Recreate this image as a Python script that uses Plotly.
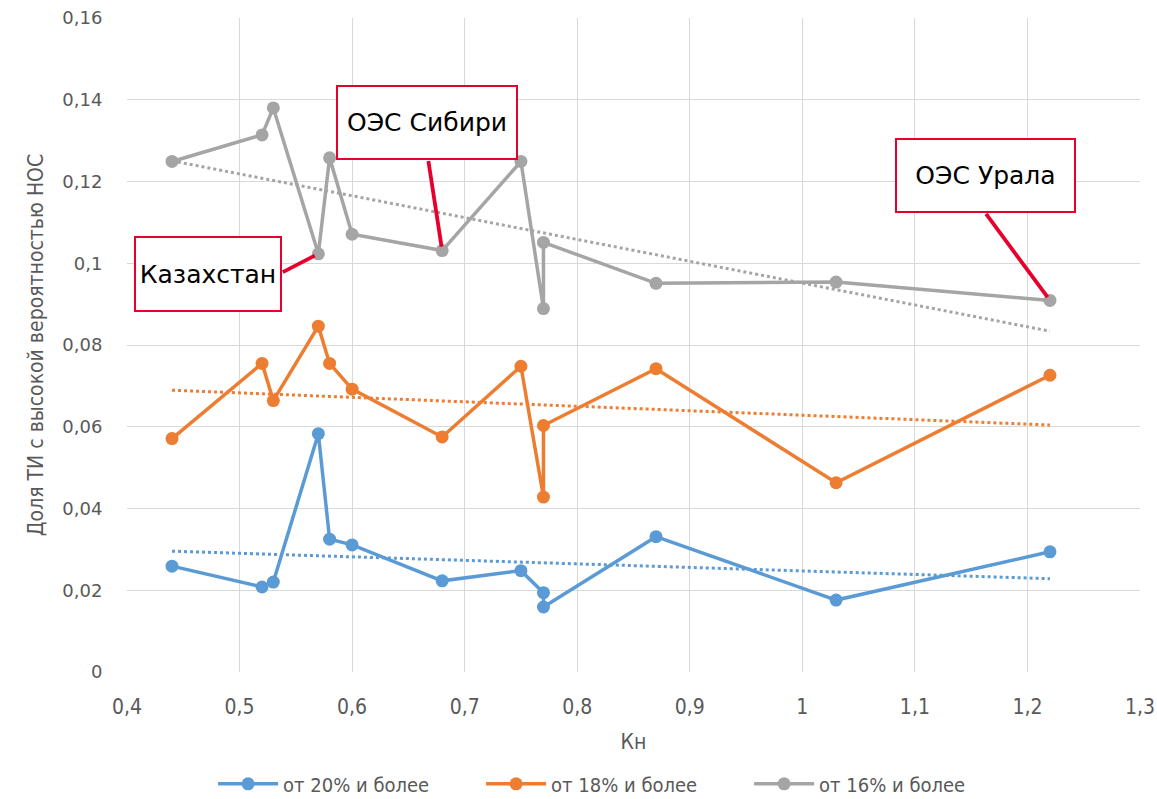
import numpy as np
import plotly.graph_objects as go

# ---- data ----
kn = [0.44, 0.52, 0.53, 0.57, 0.58, 0.60, 0.68, 0.75, 0.77, 0.77, 0.87, 1.03, 1.22]
s20 = [0.0259, 0.0208, 0.0220, 0.0583, 0.0325, 0.0311, 0.0223, 0.0248, 0.0194, 0.0159, 0.0331, 0.0176, 0.0294]
s18 = [0.0571, 0.0755, 0.0664, 0.0846, 0.0755, 0.0692, 0.0575, 0.0748, 0.0428, 0.0603, 0.0742, 0.0463, 0.0726]
s16 = [0.1249, 0.1314, 0.1380, 0.1023, 0.1258, 0.1071, 0.1031, 0.1249, 0.0889, 0.1051, 0.0951, 0.0954, 0.0909]
names = ["от 20% и более", "от 18% и более", "от 16% и более"]
colors = ["#5b9bd5", "#ed7d31", "#a5a5a5"]

y_tickvals = [0, 0.02, 0.04, 0.06, 0.08, 0.10, 0.12, 0.14, 0.16]
y_ticktext = ["0", "0,02", "0,04", "0,06", "0,08", "0,1", "0,12", "0,14", "0,16"]
x_tickvals = [0.4, 0.5, 0.6, 0.7, 0.8, 0.9, 1.0, 1.1, 1.2, 1.3]
x_ticktext = ["0,4", "0,5", "0,6", "0,7", "0,8", "0,9", "1", "1,1", "1,2", "1,3"]

callouts = [
    # label, x, y, box offset (px), line start offset (px), box w, box h
    ("Казахстан", 0.57, 0.1023, (-110, 20), (-37, 19), 144, 72),
    ("ОЭС Сибири", 0.68, 0.1031, (-15, -128), (-14, -91), 178, 71),
    ("ОЭС Урала", 1.22, 0.0909, (-64, -125), (-65, -88), 177, 71),
]

GRID = "#d9d9d9"
TXT = "#595959"
RED = "#e8002d"
NARROW = "Liberation Sans Narrow, DejaVu Sans Condensed, Roboto Condensed, Arial Narrow, sans-serif"
WIDE = "DejaVu Sans, Verdana, sans-serif"

fig = go.Figure()
series = [s20, s18, s16]
for ys, name, col in zip(series, names, colors):
    fig.add_trace(go.Scatter(
        x=kn, y=ys, mode="lines+markers", name=name,
        line=dict(color=col, width=3.5),
        marker=dict(color=col, size=13),
    ))
for ys, col in zip(series, colors):
    a, b = np.polyfit(kn, ys, 1)
    xt = [min(kn), max(kn)]
    fig.add_trace(go.Scatter(
        x=xt, y=[a * v + b for v in xt], mode="lines", showlegend=False,
        line=dict(color=col, width=3, dash="dot"), hoverinfo="skip",
    ))

for label, x, y, box, start, w, h in callouts:
    fig.add_annotation(
        x=x, y=y, xref="x", yref="y", text="", showarrow=True,
        ax=start[0], ay=start[1], axref="pixel", ayref="pixel",
        arrowhead=0, arrowwidth=3.8, arrowcolor=RED, standoff=4,
    )
    fig.add_annotation(
        x=x, y=y, xref="x", yref="y", text=label, showarrow=False,
        xshift=box[0], yshift=-box[1], width=w, height=h,
        bgcolor="white", bordercolor=RED, borderwidth=2, borderpad=0,
        font=dict(family=WIDE, size=25, color="black"),
        xanchor="center", yanchor="middle", align="center", valign="middle",
    )

fig.update_layout(
    width=1157, height=799,
    margin=dict(l=127, r=17, t=18, b=127, autoexpand=False),
    paper_bgcolor="white", plot_bgcolor="white",
    showlegend=True,
    legend=dict(
        orientation="h", x=0.085, xanchor="left", y=-0.171, yanchor="middle",
        font=dict(family=NARROW, size=20, color=TXT),
        itemwidth=60, entrywidth=193, entrywidthmode="pixels",
    ),
    xaxis=dict(
        range=[0.4, 1.3], tickvals=x_tickvals, ticktext=x_ticktext,
        showgrid=True, gridcolor=GRID, gridwidth=1, zeroline=False, showline=False,
        ticks="outside", ticklen=16, tickcolor="rgba(0,0,0,0)",
        tickfont=dict(family=NARROW, size=21, color=TXT),
        title=dict(text="Кн", font=dict(family=NARROW, size=21, color=TXT), standoff=16),
    ),
    yaxis=dict(
        range=[0, 0.16], tickvals=y_tickvals, ticktext=y_ticktext,
        showgrid=True, gridcolor=GRID, gridwidth=1, zeroline=False, showline=False,
        ticks="outside", ticklen=20, tickcolor="rgba(0,0,0,0)",
        tickfont=dict(family=WIDE, size=18, color=TXT),
        title=dict(text="Доля ТИ с высокой вероятностью НОС",
                   font=dict(family=NARROW, size=21, color=TXT), standoff=12),
    ),
)
fig.write_html("out.html")
